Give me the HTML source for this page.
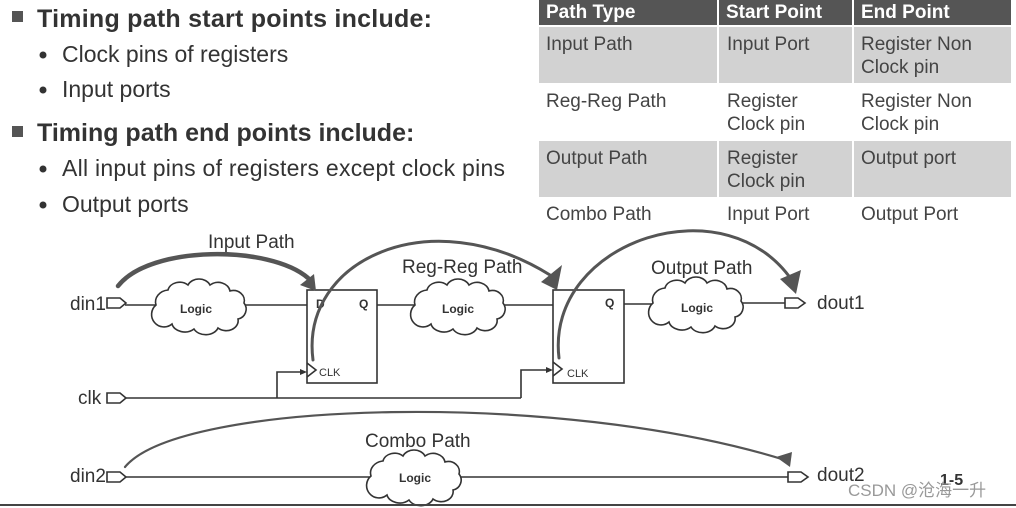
<!DOCTYPE html>
<html><head><meta charset="utf-8"><style>
html,body{margin:0;padding:0;background:#fff;}
svg{display:block;font-family:"Liberation Sans",Arial,sans-serif;}
</style></head><body>
<svg width="1016" height="508" viewBox="0 0 1016 508" xmlns="http://www.w3.org/2000/svg">
<defs>
<path id="cloud" d="M-44,-2 A14,12 0 0 1 -32,-17 A12,10 0 0 1 -12,-22 A12,10 0 0 1 10,-22 A12,10 0 0 1 30,-16 A11,10 0 0 1 44,-4 A10,10 0 0 1 38,12 A12,10 0 0 1 18,21 A13,10 0 0 1 -6,22 A13,10 0 0 1 -28,17 A12,12 0 0 1 -44,-2 Z" fill="#fff" stroke="#333" stroke-width="1.6"/>
</defs>
<g fill="#333">
<rect x="12" y="11" width="11" height="11" fill="#555"/>
<text x="37" y="27" font-size="25" font-weight="bold" fill="#333" textLength="395">Timing path start points include:</text>
<circle cx="43" cy="55" r="3.5"/>
<text x="62" y="62" font-size="23">Clock pins of registers</text>
<circle cx="43" cy="90" r="3.5"/>
<text x="62" y="97" font-size="23">Input ports</text>
<rect x="12" y="126" width="11" height="11" fill="#555"/>
<text x="37" y="141" font-size="25" font-weight="bold" fill="#333">Timing path end points include:</text>
<circle cx="43" cy="169" r="3.5"/>
<text x="62" y="176" font-size="23" textLength="443">All input pins of registers except clock pins</text>
<circle cx="43" cy="205" r="3.5"/>
<text x="62" y="212" font-size="23">Output ports</text>
</g>
<rect x="539" y="0" width="472" height="25" fill="#555"/>
<rect x="539" y="27" width="472" height="56" fill="#d2d2d2"/>
<rect x="539" y="141" width="472" height="56" fill="#d2d2d2"/>
<g stroke="#fff" stroke-width="2">
<line x1="718" y1="0" x2="718" y2="230"/><line x1="853" y1="0" x2="853" y2="230"/>
</g>
<g font-size="19" font-weight="bold" fill="#fff">
<text x="546" y="18">Path Type</text><text x="726" y="18">Start Point</text><text x="861" y="18">End Point</text>
</g>
<g font-size="19" fill="#444">
<text x="546" y="50">Input Path</text><text x="727" y="50">Input Port</text><text x="861" y="50">Register Non</text><text x="861" y="73">Clock pin</text>
<text x="546" y="107">Reg-Reg Path</text><text x="727" y="107">Register</text><text x="727" y="130">Clock pin</text><text x="861" y="107">Register Non</text><text x="861" y="130">Clock pin</text>
<text x="546" y="164">Output Path</text><text x="727" y="164">Register</text><text x="727" y="187">Clock pin</text><text x="861" y="164">Output port</text>
<text x="546" y="220">Combo Path</text><text x="727" y="220">Input Port</text><text x="861" y="220">Output Port</text>
</g>
<g stroke="#333" stroke-width="1.6" fill="none">
<line x1="125" y1="305" x2="157" y2="305"/><line x1="243" y1="305" x2="307" y2="305"/>
<line x1="377" y1="305" x2="418" y2="305"/><line x1="500" y1="305" x2="553" y2="305"/>
<line x1="624" y1="304" x2="655" y2="304"/><line x1="740" y1="303" x2="785" y2="303"/>
<line x1="125" y1="398" x2="521" y2="398"/>
<polyline points="277,398 277,372 303,372"/>
<polyline points="521,398 521,370 549,370"/>
<line x1="125" y1="477" x2="788" y2="477"/>
<rect x="307" y="290" width="70" height="93"/>
<rect x="553" y="290" width="71" height="93"/>
<polyline points="307,363 316,370 307,377"/>
<polyline points="553,362 562,369 553,376"/>
<path d="M107,298 H120 L126,303 L120,308 H107 Z"/>
<path d="M107,393 H120 L126,398 L120,403 H107 Z"/>
<path d="M107,472 H120 L126,477 L120,482 H107 Z"/>
<path d="M785,298 H798 L805,303 L798,308 H785 Z"/>
<path d="M788,472 H801 L808,477 L801,482 H788 Z"/>
</g>
<polygon points="300,369 307,372 300,375" fill="#333"/>
<polygon points="546,367 553,370 546,373" fill="#333"/>
<use href="#cloud" transform="translate(200,307)"/>
<use href="#cloud" transform="translate(459,307)"/>
<use href="#cloud" transform="translate(697,305)"/>
<use href="#cloud" transform="translate(415,478)"/>
<g font-size="12" font-weight="bold" fill="#333" text-anchor="middle">
<text x="196" y="313">Logic</text><text x="458" y="313">Logic</text><text x="697" y="312">Logic</text><text x="415" y="482">Logic</text>
</g>
<g font-size="12" font-weight="bold" fill="#333">
<text x="316" y="308">D</text><text x="359" y="308">Q</text><text x="605" y="307">Q</text>
</g>
<g font-size="11" fill="#333"><text x="319" y="376">CLK</text><text x="567" y="377">CLK</text></g>
<g font-size="19" fill="#333">
<text x="70" y="310">din1</text><text x="78" y="404">clk</text><text x="70" y="482">din2</text>
<text x="817" y="309">dout1</text><text x="817" y="481">dout2</text>
<text x="208" y="248">Input Path</text><text x="402" y="273">Reg-Reg Path</text>
<text x="651" y="274">Output Path</text><text x="365" y="447">Combo Path</text>
</g>
<g fill="none" stroke="#555" stroke-linecap="round">
<path d="M118,286 C150,245 270,245 308,278" stroke-width="4.5"/>
<path d="M313,360 C300,260 430,200 550,275" stroke-width="3"/>
<path d="M559,358 C545,240 730,180 795,285" stroke-width="3"/>
<path d="M125,467 C180,400 560,390 785,460" stroke-width="2.2"/>
</g>
<g fill="#555">
<polygon points="300,285 314,274 316,291"/>
<polygon points="541,282 562,265 557,290"/>
<polygon points="780,279 801,270 796,294"/>
<polygon points="776,457 792,452 790,467"/>
</g>
<line x1="0" y1="505" x2="1016" y2="505" stroke="#444" stroke-width="2"/>
<text x="940" y="485" font-size="16" font-weight="bold" fill="#333">1-5</text>
<text x="848" y="496" font-size="17" fill="#999" font-family="Liberation Sans, 'Noto Sans CJK SC', sans-serif">CSDN @沧海一升</text>
</svg>
</body></html>
